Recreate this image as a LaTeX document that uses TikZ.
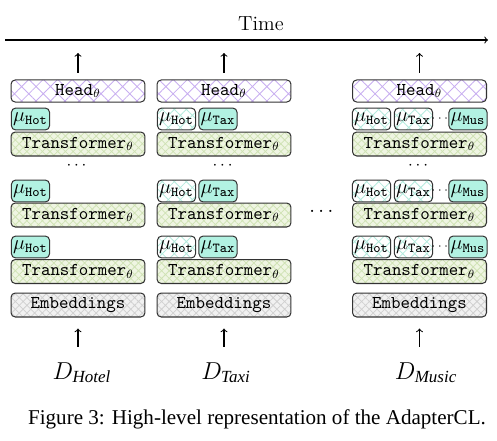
\documentclass[tikz,border=0pt]{standalone}
\usepackage{fontspec}
\usepackage{amsmath}
\newfontfamily\capfont{Liberation Serif}
\usetikzlibrary{patterns.meta}
\definecolor{headc}{HTML}{C8AEF0}
\definecolor{trfc}{HTML}{EFF5E2}
\definecolor{trfl}{HTML}{CFE2B4}
\definecolor{embc}{HTML}{F1F1F1}
\definecolor{embl}{HTML}{D0D0D0}
\definecolor{adc}{HTML}{B2F2E2}
\definecolor{adl}{HTML}{B4EADD}
\tikzstyle{box} = [draw=black!80, line width=0.6pt, rounded corners=2.5pt, minimum width=78.8pt, inner sep=0pt, font=\fontsize{10.6}{12}\selectfont]
\tikzstyle{head} = [box, minimum height=13pt, pattern={Hatch[angle=45,distance=6pt,line width=0.5pt]}, pattern color=headc]
\tikzstyle{trf} = [box, minimum height=14.1pt, preaction={fill=trfc}, pattern={Hatch[angle=45,distance=3.2pt,line width=0.45pt]}, pattern color=trfl]
\tikzstyle{emb} = [box, minimum height=14.1pt, preaction={fill=embc}, pattern={Hatch[angle=45,distance=3.2pt,line width=0.45pt]}, pattern color=embl]
\tikzstyle{adon} = [draw=black!80, line width=0.6pt, rounded corners=2.5pt, minimum width=22.4pt, minimum height=12.9pt, inner sep=0pt, fill=adc, font=\fontsize{11.5}{12}\selectfont]
\tikzstyle{adoff} = [adon, fill=none, pattern={Hatch[angle=45,distance=5pt,line width=0.5pt]}, pattern color=adl]
\tikzstyle{dlbl} = [inner sep=0pt, anchor=north, font=\Large]
\tikzstyle{arr} = [->, line width=0.6pt]

\begin{document}
\begin{tikzpicture}[x=0.5882pt, y=-0.5882pt]
\useasboundingbox (0,0) rectangle (497,440);
% time axis
\coordinate (tl) at (5,40);
\coordinate (tr) at (488,40);
\draw[arr] (tl) -- (tr) node[pos=0.53, above=2pt, font=\large] (time) {Time};

% heads
\node[head] (heada) at (78,91) {\texttt{Head}$_\theta$};
\node[head] (headb) at (224,91) {\texttt{Head}$_\theta$};
\node[head] (headc) at (419.5,91) {\texttt{Head}$_\theta$};

% transformer layers with adapters
\foreach \r/\ay/\ty in {1/119/144, 2/191/215, 3/247/271.5} {
    \node[trf] (trfa\r) at (78,\ty) {\texttt{Transformer}$_\theta$};
    \node[trf] (trfb\r) at (224,\ty) {\texttt{Transformer}$_\theta$};
    \node[trf] (trfc\r) at (419.5,\ty) {\texttt{Transformer}$_\theta$};
    \node[adon] (hota\r) at (30.5,\ay) {$\mu_{\texttt{Hot}}$};
    \node[adoff] (hotb\r) at (176.5,\ay) {$\mu_{\texttt{Hot}}$};
    \node[adon] (taxb\r) at (218,\ay) {$\mu_{\texttt{Tax}}$};
    \node[adoff] (hotc\r) at (371.5,\ay) {$\mu_{\texttt{Hot}}$};
    \node[adoff] (taxc\r) at (413.5,\ay) {$\mu_{\texttt{Tax}}$};
    \node[inner sep=0pt, font=\scriptsize] (dotc\r) at (441,\ay) {$\cdots$};
    \node[adon] (musc\r) at (468,\ay) {$\mu_{\texttt{Mus}}$};
}
\node (vdota) at (78,166) {$\cdots$};
\node (vdotb) at (224,166) {$\cdots$};
\node (vdotc) at (419.5,166) {$\cdots$};
\node[font=\large] (hdots) at (323,212) {$\cdots$};

% embeddings
\node[emb] (emba) at (78,305) {\texttt{Embeddings}};
\node[emb] (embb) at (224,305) {\texttt{Embeddings}};
\node[emb] (embc) at (419.5,305) {\texttt{Embeddings}};

% data
\node[dlbl] (da) at (82,362) {$D_{\text{\capfont\itshape Hotel}}$};
\node[dlbl] (db) at (226,362) {$D_{\text{\capfont\itshape Taxi}}$};
\node[dlbl] (dc) at (426,362) {$D_{\text{\capfont\itshape Music}}$};
\draw[arr, shorten <=9pt, shorten >=6.5pt] (da.north -| emba.south) -- (emba.south);
\draw[arr, shorten <=9pt, shorten >=6.5pt] (db.north -| embb.south) -- (embb.south);
\draw[arr, shorten <=9pt, shorten >=6.5pt] (dc.north -| embc.south) -- (embc.south);

% outputs
\coordinate (outa) at (78,53);
\coordinate (outb) at (224,53);
\coordinate (outc) at (419.5,53);
\draw[arr, shorten <=4pt] (heada.north) -- (outa);
\draw[arr, shorten <=4pt] (headb.north) -- (outb);
\draw[arr, shorten <=4pt] (headc.north) -- (outc);

\node[font=\capfont\fontsize{12.4}{14}\selectfont] (cap) at (257,419) {Figure 3: High-level representation of the AdapterCL.};
\end{tikzpicture}
\end{document}
